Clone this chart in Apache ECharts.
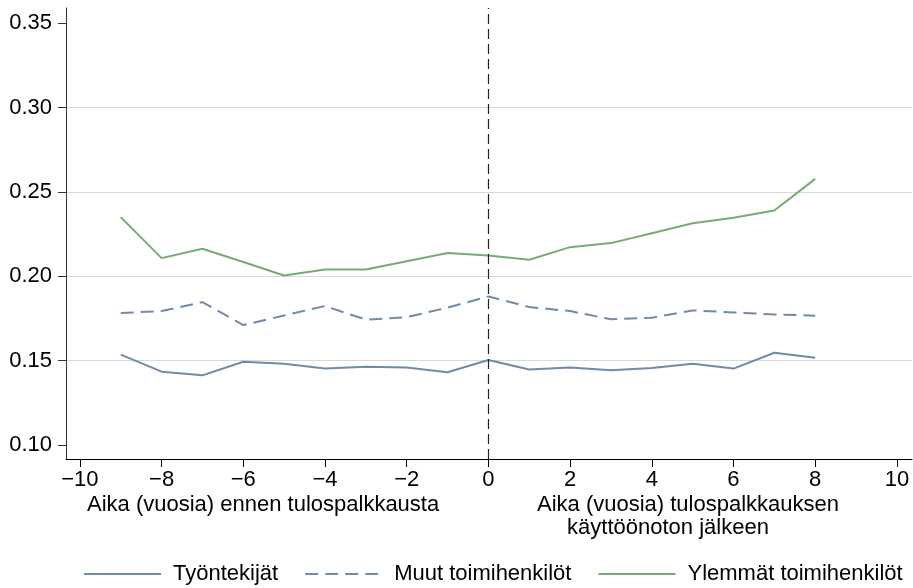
<!DOCTYPE html>
<html>
<head>
<meta charset="utf-8">
<script src="https://cdn.jsdelivr.net/npm/echarts@6/dist/echarts.min.js"></script>
<style>
html,body{margin:0;padding:0;background:#fff;}
#chart{width:913px;height:588px;}
</style>
</head>
<body>
<div id="chart"></div>
<script>
const years = [-9,-8,-7,-6,-5,-4,-3,-2,-1,0,1,2,3,4,5,6,7,8];
const tyontekijat = [0.1536,0.1435,0.1413,0.1494,0.1482,0.1453,0.1464,0.1460,0.1431,0.1504,0.1448,0.1460,0.1443,0.1456,0.1482,0.1453,0.1547,0.1518];
const muut = [0.1782,0.1794,0.1847,0.1711,0.1768,0.1824,0.1743,0.1758,0.1814,0.1881,0.1818,0.1794,0.1745,0.1755,0.1798,0.1786,0.1774,0.1767];
const ylemmat = [0.2351,0.2108,0.2164,0.2085,0.2005,0.2041,0.2041,0.2090,0.2138,0.2124,0.2098,0.2173,0.2197,0.2256,0.2315,0.2347,0.2390,0.2578];
const seriesNames = ['Työntekijät','Muut toimihenkilöt','Ylemmät toimihenkilöt'];
const xTicks = [-10,-8,-6,-4,-2,0,2,4,6,8,10];
const yTicks = [0.10,0.15,0.20,0.25,0.30,0.35];
const xTitleLeft = 'Aika (vuosia) ennen tulospalkkausta';
const xTitleRight1 = 'Aika (vuosia) tulospalkkauksen';
const xTitleRight2 = 'käyttöönoton jälkeen';

const FONT = '"Liberation Sans", Arial, Helvetica, sans-serif';
const FS = 22;
const BLUE = '#6f8aab';
const GREEN = '#74ad74';

function pairs(vals){ return years.map((x,i)=>[x, vals[i]]); }

const chart = echarts.init(document.getElementById('chart'), null, {renderer:'canvas'});
chart.setOption({
  animation: false,
  backgroundColor: '#fff',
  textStyle: {fontFamily: FONT},
  grid: {left: 66, right: 1, top: 8, bottom: 129, containLabel: false},
  xAxis: {
    type: 'value', min: -10.34, max: 10.37,
    axisLine: {show: true, onZero: false, lineStyle: {color: '#000', width: 1}},
    axisTick: {show: true, length: 8, lineStyle: {color: '#000'}, customValues: xTicks},
    axisLabel: {show: true, margin: 10, color: '#000', fontSize: FS, fontFamily: FONT, customValues: xTicks,
      formatter: v => v < 0 ? '\u2212' + Math.abs(v) : String(v)},
    splitLine: {show: false}
  },
  yAxis: {
    type: 'value', min: 0.0917, max: 0.3591, minInterval: 0.05, maxInterval: 0.05,
    axisLine: {show: true, onZero: false, lineStyle: {color: '#333', width: 1}},
    axisTick: {show: true, length: 8, lineStyle: {color: '#333'}, customValues: yTicks},
    axisLabel: {show: true, margin: 14, color: '#000', fontSize: FS, fontFamily: FONT, customValues: yTicks,
      formatter: v => v.toFixed(2)},
    splitLine: {show: true, showMinLine: false, showMaxLine: false, lineStyle: {color: '#d9d9d9', width: 1}}
  },
  legend: {
    left: 83, top: 563, padding: 0, itemWidth: 77, itemHeight: 14, itemGap: 26,
    data: seriesNames,
    itemStyle: {opacity: 0},
    textStyle: {fontSize: FS, fontFamily: FONT, color: '#000', padding: [0,0,0,7]}
  },
  graphic: [
    {type: 'text', left: 87, top: 494, style: {text: xTitleLeft, font: FS + 'px ' + FONT, fill: '#000'}},
    {type: 'text', x: 688, y: 505, style: {text: xTitleRight1, font: FS + 'px ' + FONT, fill: '#000', align: 'center', verticalAlign: 'middle'}},
    {type: 'text', x: 668, y: 528, style: {text: xTitleRight2, font: FS + 'px ' + FONT, fill: '#000', align: 'center', verticalAlign: 'middle'}}
  ],
  series: [
    {name: seriesNames[0], type: 'line', data: pairs(tyontekijat), symbol: 'none', showSymbol: false,
      lineStyle: {color: BLUE, width: 2}, itemStyle: {color: BLUE},
      markLine: {silent: true, symbol: ['none','none'], label: {show: false},
        lineStyle: {color: '#222', type: [10,5], width: 1.2}, data: [{xAxis: 0}]}},
    {name: seriesNames[1], type: 'line', data: pairs(muut), symbol: 'none', showSymbol: false,
      lineStyle: {color: BLUE, width: 2, type: [13,7]}, itemStyle: {color: BLUE}},
    {name: seriesNames[2], type: 'line', data: pairs(ylemmat), symbol: 'none', showSymbol: false,
      lineStyle: {color: GREEN, width: 2}, itemStyle: {color: GREEN}}
  ]
});
</script>
</body>
</html>
